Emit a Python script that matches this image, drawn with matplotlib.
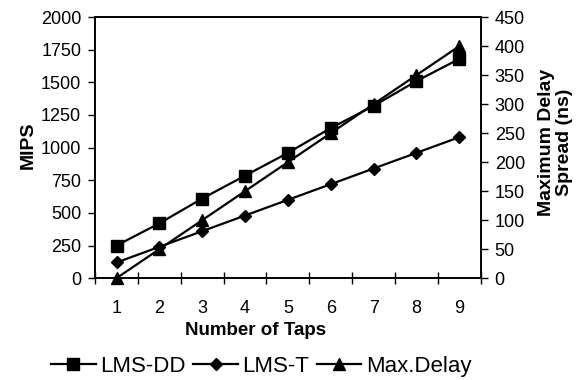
import numpy as np
import matplotlib
matplotlib.use('Agg')
import matplotlib.pyplot as plt

plt.rcParams['font.family'] = ['Liberation Sans', 'DejaVu Sans']

taps = [1, 2, 3, 4, 5, 6, 7, 8, 9]
lms_dd = [250, 420, 610, 785, 960, 1150, 1320, 1510, 1680]
lms_t = [120, 240, 360, 480, 600, 720, 840, 960, 1080]
max_delay = [0, 50, 100, 150, 200, 250, 300, 350, 400]

fig = plt.figure(figsize=(5.87, 3.80), dpi=100)
ax = fig.add_axes([0.162, 0.268, 0.657, 0.687])
ax2 = ax.twinx()

mk = dict(color='black', lw=1.6, markersize=8.5, clip_on=False)
l1, = ax.plot(taps, lms_dd, marker='s', label='LMS-DD', **mk)
l2, = ax.plot(taps, lms_t, marker='D', label='LMS-T', color='black', lw=1.6, markersize=6.5, clip_on=False)
l3, = ax2.plot(taps, max_delay, marker='^', label='Max.Delay', **mk)

ax.set_xlim(0.5, 9.5)
ax.set_ylim(0, 2000)
ax.set_yticks(np.arange(0, 2001, 250))
ax2.set_ylim(0, 450)
ax2.set_yticks(np.arange(0, 451, 50))

# category axis: tick marks at boundaries, labels at centers
ax.set_xticks(np.arange(0.5, 10, 1))
ax.set_xticklabels([])
ax.set_xticks(taps, minor=True)
ax.set_xticklabels([str(t) for t in taps], minor=True)
ax.tick_params(axis='x', which='major', direction='inout', length=8, width=1)
ax.tick_params(axis='x', which='minor', length=0, pad=16, labelsize=13)
ax.tick_params(axis='y', direction='out', length=5, width=1, labelsize=13, pad=5)
ax2.tick_params(axis='y', direction='out', length=5, width=1, labelsize=13, pad=5)

for a in (ax, ax2):
    for s in a.spines.values():
        s.set_linewidth(1.2)

ax.set_ylabel('MIPS', fontsize=14, fontweight='bold')
ax.yaxis.set_label_coords(-0.15, 0.51)
ax2.set_ylabel('Maximum Delay\nSpread (ns)', fontsize=14, fontweight='bold', linespacing=1.1)
ax2.yaxis.set_label_coords(1.148, 0.52)
fig.text(0.436, 0.13, 'Number of Taps', fontsize=13.5, fontweight='bold', ha='center', va='center')

fig.legend(handles=[l1, l2, l3], loc='center', bbox_to_anchor=(0.445, 0.035), ncol=3,
           frameon=False, fontsize=16, handlelength=2.0, handletextpad=0.2,
           columnspacing=0.35, borderpad=0)

fig.savefig('out.png', dpi=100)
